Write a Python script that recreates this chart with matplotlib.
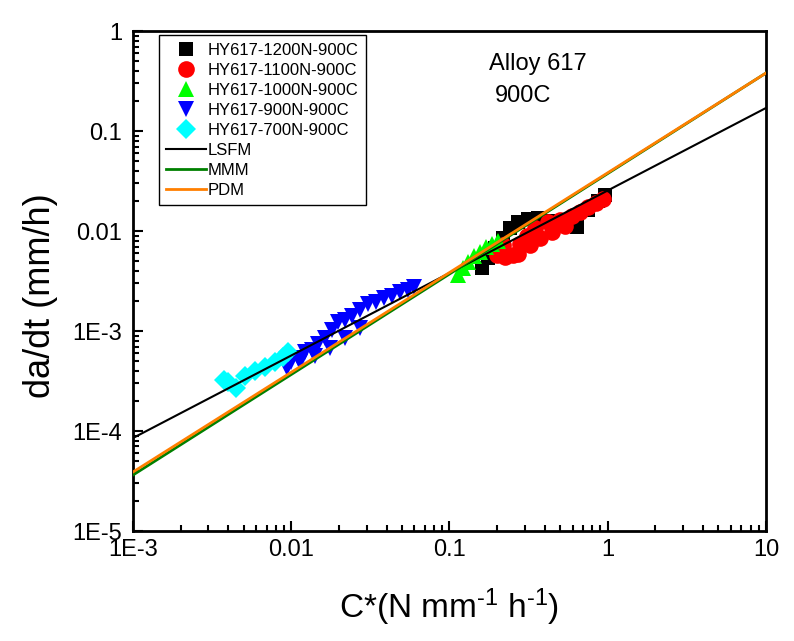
import numpy as np
import matplotlib.pyplot as plt

plt.rcParams['font.family'] = ['Liberation Sans', 'DejaVu Sans']
plt.rcParams['mathtext.fontset'] = 'custom'
plt.rcParams['mathtext.rm'] = 'Liberation Sans'
plt.rcParams['mathtext.it'] = 'Liberation Sans'

# crack growth data: C* (N/mm/h), da/dt (mm/h)
c_1200 = [0.160, 0.175, 0.194, 0.218, 0.241, 0.271, 0.313, 0.362, 0.419, 0.499, 0.640, 0.750, 0.867, 0.962]
r_1200 = [4.27e-3, 5.37e-3, 6.76e-3, 8.51e-3, 1.07e-2, 1.23e-2, 1.32e-2, 1.35e-2, 1.26e-2, 1.17e-2, 1.10e-2, 1.62e-2, 2.00e-2, 2.29e-2]

c_1100 = [0.200, 0.224, 0.252, 0.218, 0.279, 0.271, 0.309, 0.323, 0.347, 0.373, 0.419, 0.445, 0.499, 0.537,
          0.594, 0.668, 0.750, 0.843, 0.933]
r_1100 = [5.75e-3, 5.50e-3, 5.75e-3, 7.24e-3, 7.41e-3, 5.89e-3, 8.91e-3, 7.24e-3, 1.07e-2, 8.51e-3, 1.23e-2, 9.77e-3,
          1.29e-2, 1.12e-2, 1.41e-2, 1.55e-2, 1.74e-2, 1.91e-2, 2.09e-2]

c_1000 = [0.113, 0.122, 0.131, 0.143, 0.156, 0.170, 0.186, 0.202]
r_1000 = [3.63e-3, 4.27e-3, 4.90e-3, 5.62e-3, 6.17e-3, 6.92e-3, 7.41e-3, 7.94e-3]

c_900 = [0.0094, 0.0099, 0.0110, 0.0113, 0.0122, 0.0135, 0.0141, 0.0148, 0.0163, 0.0176, 0.0181, 0.0197,
         0.0219, 0.0219, 0.0242, 0.0272, 0.0272, 0.0305, 0.0344, 0.0385, 0.0434, 0.0486, 0.0547, 0.0597]
r_900 = [4.27e-4, 4.90e-4, 5.37e-4, 4.90e-4, 6.17e-4, 6.46e-4, 5.62e-4, 7.41e-4, 8.51e-4, 6.76e-4, 1.02e-3, 1.23e-3,
         1.29e-3, 8.51e-4, 1.41e-3, 1.62e-3, 1.07e-3, 1.86e-3, 1.95e-3, 2.14e-3, 2.24e-3, 2.45e-3, 2.57e-3, 2.75e-3]

c_700 = [0.00376, 0.00398, 0.00448, 0.00511, 0.00590, 0.00683, 0.00789, 0.00887, 0.00953]
r_700 = [3.24e-4, 3.09e-4, 2.69e-4, 3.55e-4, 3.98e-4, 4.37e-4, 4.90e-4, 5.50e-4, 6.17e-4]

# fitted lines (end points)
fit_x = [1e-3, 10]
lsfm_y = [8.51e-5, 0.170]
mmm_y = [3.63e-5, 0.380]
pdm_y = [3.89e-5, 0.380]

xticks = [1e-3, 0.01, 0.1, 1, 10]
xlabels = ["1E-3", "0.01", "0.1", "1", "10"]
yticks = [1e-5, 1e-4, 1e-3, 0.01, 0.1, 1]
ylabels = ["1E-5", "1E-4", "1E-3", "0.01", "0.1", "1"]


def main():
    fig = plt.figure(figsize=(7.94, 6.41), dpi=100)
    ax = fig.add_axes([0.1675, 0.1716, 0.7972, 0.78])

    ms = 12
    ax.plot(c_1200, r_1200, "s", color="black", ms=ms - 2, mew=0, label="HY617-1200N-900C")
    ax.plot(c_1100, r_1100, "o", color="red", ms=ms, mew=0, label="HY617-1100N-900C")
    ax.plot(c_1000, r_1000, "^", color="#00ff00", ms=ms, mew=0, label="HY617-1000N-900C")
    ax.plot(c_900, r_900, "v", color="blue", ms=ms, mew=0, label="HY617-900N-900C")
    ax.plot(c_700, r_700, "D", color="cyan", ms=ms - 2, mew=0, label="HY617-700N-900C")

    ax.plot(fit_x, lsfm_y, "-", color="black", lw=1.5, label="LSFM", zorder=5)
    ax.plot(fit_x, mmm_y, "-", color="green", lw=2, label="MMM", zorder=5)
    ax.plot(fit_x, pdm_y, "-", color="#ff7f00", lw=2, label="PDM", zorder=6)

    ax.set_xscale("log")
    ax.set_yscale("log")
    ax.set_xlim(1e-3, 10)
    ax.set_ylim(1e-5, 1)
    ax.set_xticks(xticks)
    ax.set_xticklabels(xlabels)
    ax.set_yticks(yticks)
    ax.set_yticklabels(ylabels)
    ax.tick_params(which="both", direction="in", top=False, right=False, width=1.5)
    ax.tick_params(which="major", length=7, labelsize=17)
    ax.tick_params(which="minor", length=4)
    ax.tick_params(axis="x", which="major", pad=6)
    ax.tick_params(axis="y", which="major", pad=8)
    for s in ax.spines.values():
        s.set_linewidth(2)

    ax.set_xlabel("C*(N mm$^{\\text{-1}}$ h$^{\\text{-1}}$)", fontsize=24)
    ax.set_ylabel("da/dt (mm/h)", fontsize=26)
    ax.xaxis.set_label_coords(0.5, -0.11)
    ax.yaxis.set_label_coords(-0.118, 0.47)

    ax.text(0.5624, 0.922, "Alloy 617", transform=ax.transAxes, fontsize=17, va="baseline")
    ax.text(0.572, 0.858, "900C", transform=ax.transAxes, fontsize=17, va="baseline")

    leg = ax.legend(loc="upper left", bbox_to_anchor=(0.041, 0.992), fontsize=12, frameon=True,
                    fancybox=False, edgecolor="black", handlelength=2.4, handletextpad=0.1,
                    borderpad=0.45, labelspacing=0.3, borderaxespad=0, framealpha=1)
    leg.get_frame().set_linewidth(1)

    plt.savefig("out.png", dpi=100)


if __name__ == "__main__":
    main()
